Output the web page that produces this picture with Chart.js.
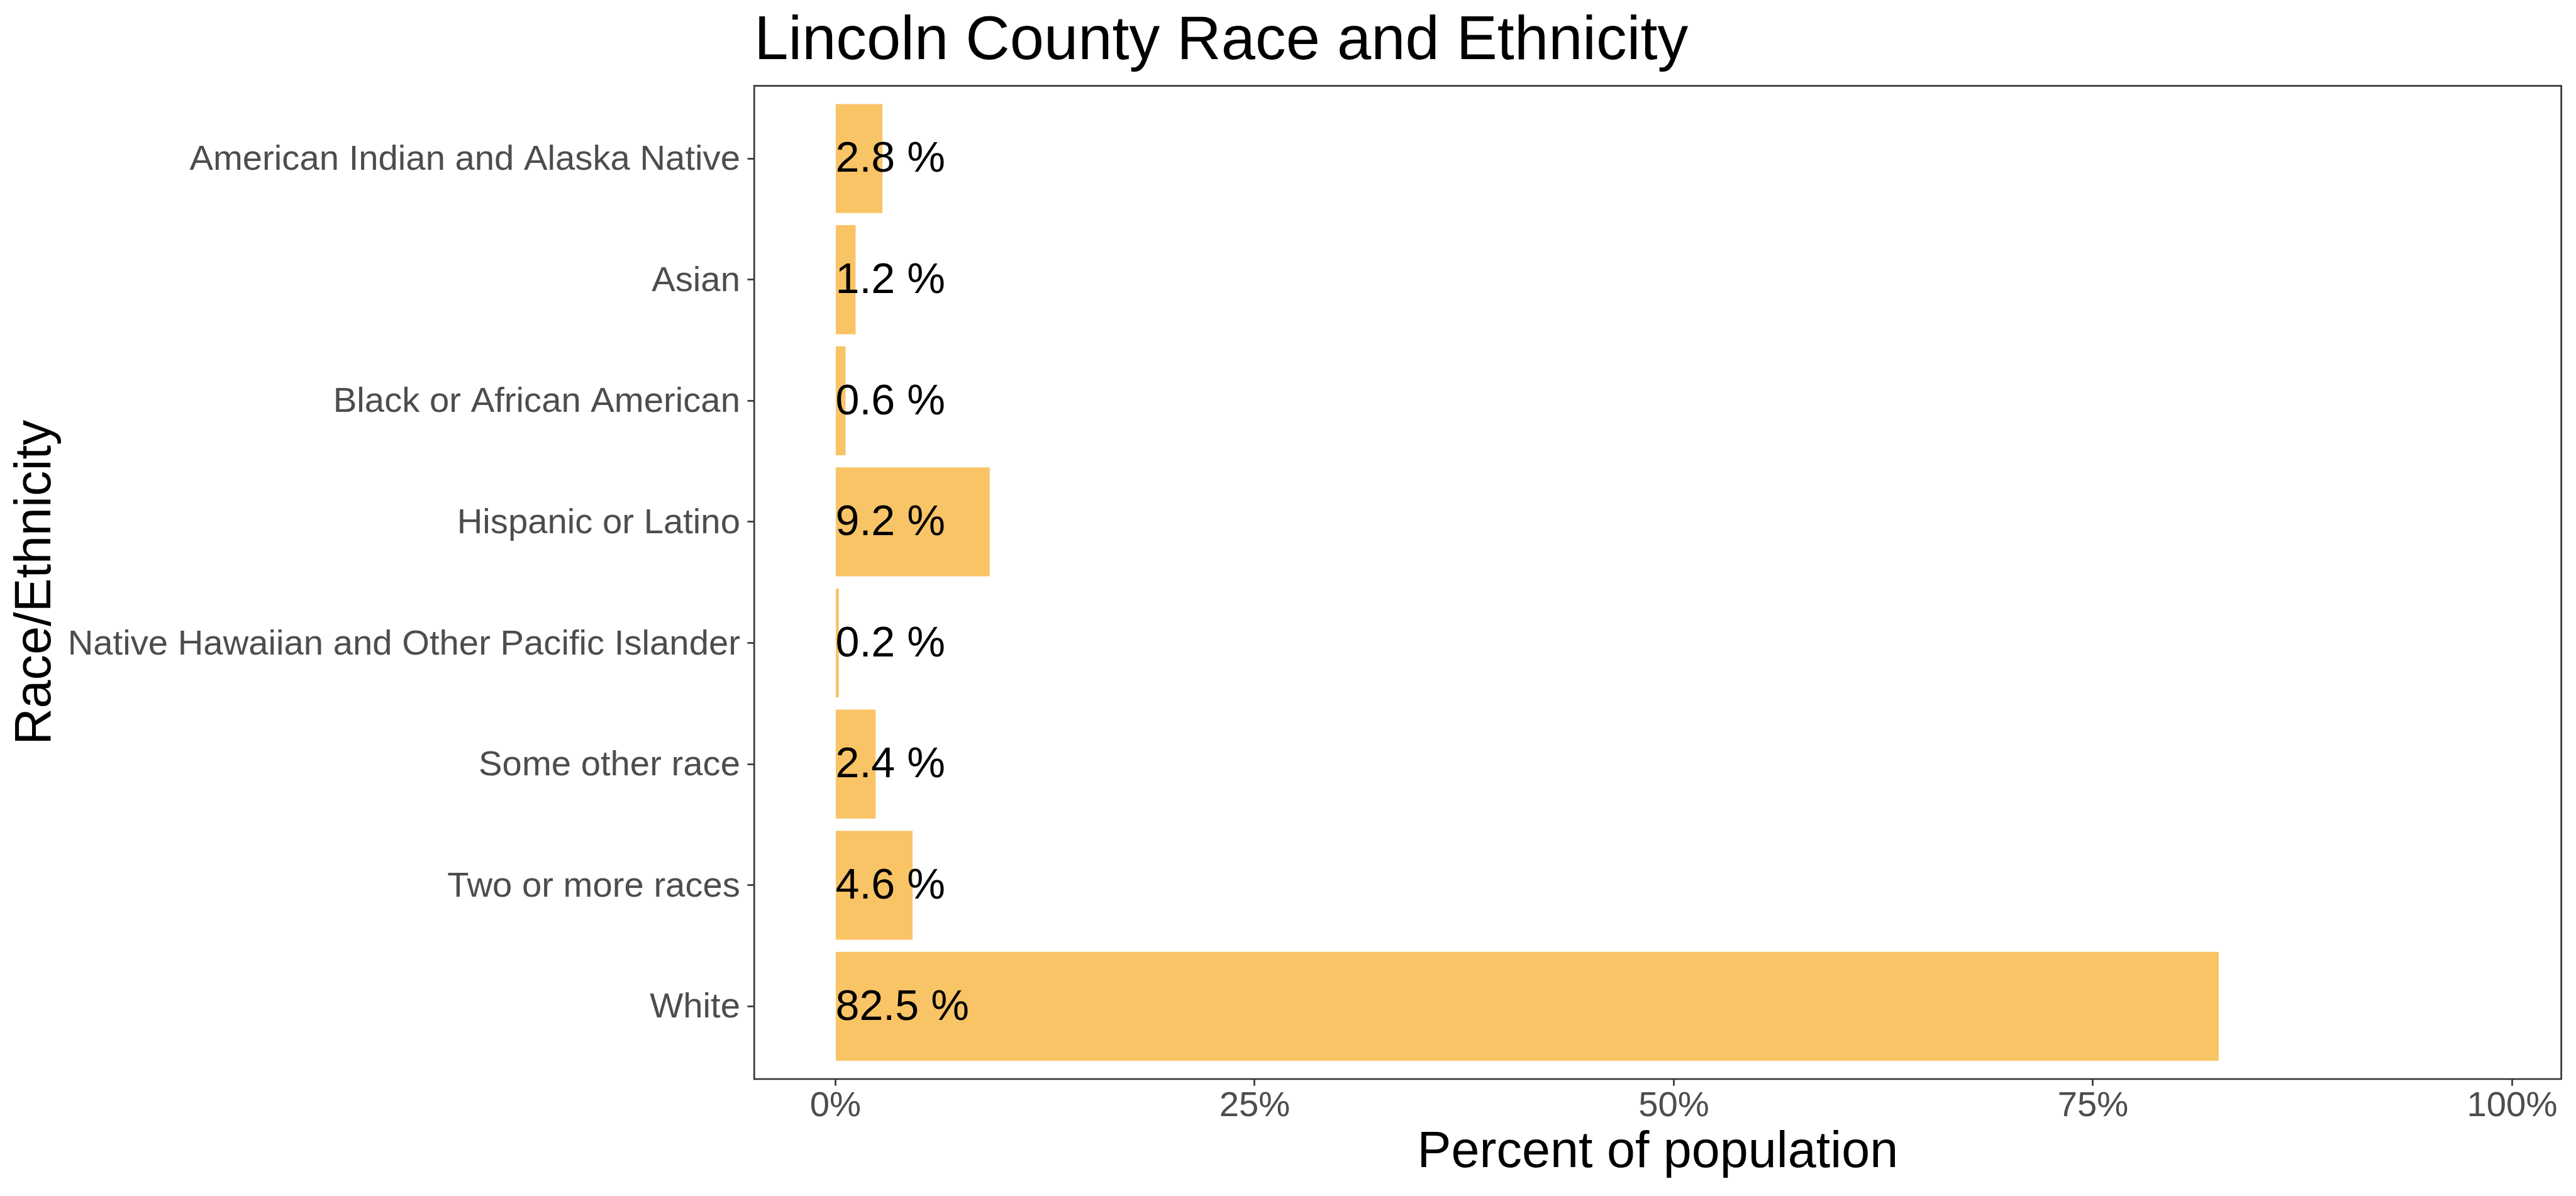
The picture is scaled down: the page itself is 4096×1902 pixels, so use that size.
<!DOCTYPE html>
<html><head><meta charset="utf-8">
<script src="https://cdn.jsdelivr.net/npm/chart.js@4.4.1/dist/chart.umd.min.js"></script>
<style>html,body{margin:0;padding:0;background:#fff;overflow:hidden}canvas{display:block}</style>
</head><body>
<canvas id="c" width="4096" height="1902"></canvas>
<script>
// ---- data ----
const chartTitle = 'Lincoln County Race and Ethnicity';
const categories = [
  'American Indian and Alaska Native',
  'Asian',
  'Black or African American',
  'Hispanic or Latino',
  'Native Hawaiian and Other Pacific Islander',
  'Some other race',
  'Two or more races',
  'White'
];
const percentValues = [2.8, 1.2, 0.6, 9.2, 0.2, 2.4, 4.6, 82.5];
const xTickValues = [0, 25, 50, 75, 100];
const xAxisTitle = 'Percent of population';
const yAxisTitle = 'Race/Ethnicity';

// ---- layout (reference px * scale) ----
const S = 0.975;
const W = 4096, H = 1902;
const FONT = '"Liberation Sans", Arial, Helvetica, sans-serif';
const plotLeft = 1230 * S, plotRight = 4177 * S, plotTop = 140 * S, plotBottom = 1760 * S;
const tickLen = 11 * S;
const lineW = 2.7 * S;
const axisColor = '#333333';
const labelColor = '#4D4D4D';
const barColor = '#F9C466';

const titlePlugin = {
  id: 'plotTitle',
  afterDraw(chart) {
    const ctx = chart.ctx;
    ctx.save();
    ctx.font = (100 * S) + 'px ' + FONT;
    ctx.fillStyle = '#000000';
    ctx.textAlign = 'left';
    ctx.textBaseline = 'alphabetic';
    ctx.fillText(chartTitle, chart.chartArea.left, 96 * S);
    ctx.restore();
  }
};

const borderPlugin = {
  id: 'panelBorder',
  afterDraw(chart) {
    const a = chart.chartArea;
    const ctx = chart.ctx;
    ctx.save();
    ctx.strokeStyle = axisColor;
    ctx.lineWidth = lineW;
    ctx.strokeRect(a.left, a.top, a.right - a.left, a.bottom - a.top);
    ctx.restore();
  }
};

const valueLabelPlugin = {
  id: 'valueLabels',
  afterDatasetsDraw(chart) {
    const ctx = chart.ctx;
    const meta = chart.getDatasetMeta(0);
    const x0 = chart.scales.x.getPixelForValue(0);
    ctx.save();
    ctx.font = (70 * S) + 'px ' + FONT;
    ctx.fillStyle = '#000000';
    ctx.textAlign = 'left';
    ctx.textBaseline = 'middle';
    meta.data.forEach((bar, i) => {
      ctx.fillText(percentValues[i].toFixed(1) + ' %', x0, bar.y + 2.5 * S);
    });
    ctx.restore();
  }
};

new Chart(document.getElementById('c'), {
  type: 'bar',
  data: {
    datasets: [{
      data: percentValues.map((v, i) => ({ x: v, y: i })),
      backgroundColor: barColor,
      borderWidth: 0,
      categoryPercentage: 1,
      barPercentage: 0.9
    }]
  },
  options: {
    indexAxis: 'y',
    responsive: false,
    animation: false,
    devicePixelRatio: 1,
    layout: { padding: { left: 0, top: plotTop, right: W - plotRight, bottom: 0 } },
    plugins: {
      legend: { display: false },
      title: { display: false },
      tooltip: { enabled: false }
    },
    scales: {
      x: {
        type: 'linear',
        position: 'bottom',
        min: -4.846,
        max: 102.93,
        offset: false,
        afterBuildTicks: s => { s.ticks = xTickValues.map(v => ({ value: v })); },
        afterFit: s => { s.height = H - plotBottom; },
        border: { display: false },
        grid: {
          drawOnChartArea: false, drawTicks: true, offset: false,
          tickLength: tickLen, tickWidth: lineW, tickColor: axisColor
        },
        ticks: {
          autoSkip: false, maxRotation: 0, minRotation: 0,
          color: labelColor,
          font: { family: FONT, size: 57.7 * S, lineHeight: 1 },
          padding: 4.8,
          callback: v => v + '%'
        },
        title: {
          display: true, text: xAxisTitle, color: '#000000',
          font: { family: FONT, size: 83 * S, lineHeight: 1.2 },
          padding: { top: 0, bottom: 19.4 }
        }
      },
      y: {
        type: 'linear',
        position: 'left',
        min: -0.6,
        max: 7.6,
        reverse: true,
        offset: false,
        afterBuildTicks: s => { s.ticks = categories.map((c, i) => ({ value: i })); },
        afterFit: s => { s.width = plotLeft; },
        border: { display: false },
        grid: {
          drawOnChartArea: false, drawTicks: true, offset: false,
          tickLength: tickLen, tickWidth: lineW, tickColor: axisColor
        },
        ticks: {
          autoSkip: false,
          color: labelColor,
          font: { family: FONT, size: 57.7 * S, lineHeight: 1.2 },
          padding: 11.6,
          labelOffset: 2.5 * S,
          callback: v => categories[v]
        },
        title: {
          display: true, text: yAxisTitle, color: '#000000',
          font: { family: FONT, size: 83 * S, lineHeight: 1.2 },
          padding: { top: 9, bottom: 0 }
        }
      }
    }
  },
  plugins: [titlePlugin, borderPlugin, valueLabelPlugin]
});
</script>
</body></html>
